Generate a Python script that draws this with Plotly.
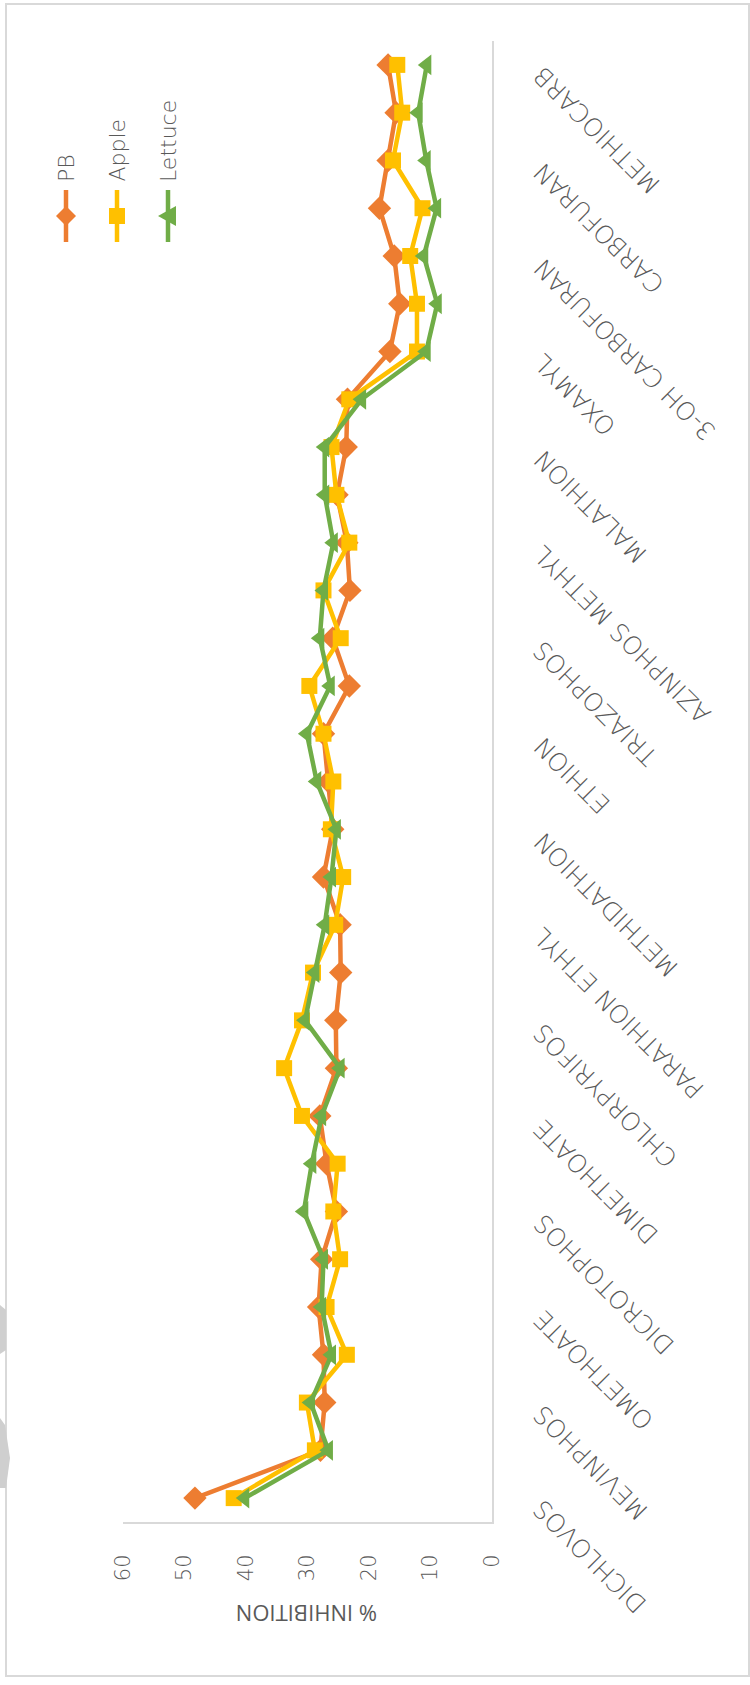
import plotly.graph_objects as go

# ---- data -------------------------------------------------------------
# 31 compounds along the category axis; only every second one carries a label
n_compounds = 31
positions = list(range(n_compounds))
compound_labels = [
    "DICHLOVOS", "MEVINPHOS", "OMETHOATE", "DICROTOPHOS", "DIMETHOATE",
    "CHLORPYRIFOS", "PARATHION ETHYL", "METHIDATHION", "ETHION",
    "TRIAZOPHOS", "AZINPHOS METHYL", "MALATHION", "OXAMYL",
    "3-OH CARBOFURAN", "CARBOFURAN", "METHIOCARB",
]
label_step = 2

pb = [48.3, 27.9, 27.2, 27.4, 28.2, 27.7, 25.3, 26.9, 28.0, 25.3, 25.4,
      24.6, 24.7, 27.4, 25.9, 26.6, 27.4, 23.2, 25.9, 23.1, 23.6, 25.2,
      23.7, 23.5, 16.6, 15.0, 15.9, 18.3, 16.9, 15.6, 16.9]
apple = [42.0, 28.8, 30.1, 23.6, 26.9, 24.7, 25.8, 25.1, 30.9, 33.8, 30.9,
         29.1, 25.5, 24.2, 26.2, 25.8, 27.4, 29.7, 24.6, 27.4, 23.2, 25.3,
         26.1, 23.2, 12.2, 12.2, 13.3, 11.3, 16.1, 14.6, 15.4]
lettuce = [40.2, 26.6, 29.5, 26.1, 27.7, 27.4, 30.6, 29.3, 27.7, 24.7, 30.4,
           28.8, 27.2, 26.1, 25.3, 28.5, 30.1, 26.3, 28.0, 27.4, 25.8, 27.2,
           27.2, 21.2, 10.7, 8.9, 11.1, 9.0, 10.7, 12.0, 10.6]

series_names = ["PB", "Apple", "Lettuce"]
value_ticks = [0, 10, 20, 30, 40, 50, 60]
axis_title = "% INHIBITION"

# ---- styling ----------------------------------------------------------
W, H = 750, 1685
L, R, T, B = 123, 492, 41, 1522          # plot area in page pixels
TEXT = "#595959"
GRID = "#d9d9d9"
TITLE_FONT = "Open Sans"
THIN_FONT = "DejaVu Sans"

colors = ["#ED7D31", "#FFC000", "#70AD47"]
symbols = ["diamond", "square", "triangle-left"]
sizes = [18, 16, 18]

# legend glyphs as pixel paths (y up)
glyph_paths = {
    "diamond": "M0,10 L10,0 L0,-10 L-10,0 Z",
    "square": "M-8,-8 L8,-8 L8,8 L-8,8 Z",
    "triangle-left": "M-10,0 L8,10 L8,-10 Z",
}


def px_x(px):
    return (px - L) / (R - L)


def px_y(py):
    return (B - py) / (B - T)


fig = go.Figure()

for name, vals, color, sym, size in zip(series_names, [pb, apple, lettuce],
                                         colors, symbols, sizes):
    fig.add_trace(go.Scatter(
        x=vals, y=positions, mode="lines+markers", name=name,
        line=dict(color=color, width=4.5),
        marker=dict(symbol=sym, size=size, color=color),
        cliponaxis=False, showlegend=False,
    ))

# legend entries, rotated like the rest of the chart
legend_x0, legend_dx, legend_y = 66, 51, 216
shapes = []
for k, (name, color, sym) in enumerate(zip(series_names, colors, symbols)):
    lx = legend_x0 + legend_dx * k
    shapes.append(dict(type="line", xref="paper", yref="paper",
                       x0=px_x(lx), x1=px_x(lx),
                       y0=px_y(legend_y - 26), y1=px_y(legend_y + 26),
                       line=dict(color=color, width=4.5)))
    shapes.append(dict(type="path", xref="paper", yref="paper",
                       xsizemode="pixel", ysizemode="pixel",
                       xanchor=px_x(lx), yanchor=px_y(legend_y),
                       path=glyph_paths[sym], fillcolor=color,
                       line=dict(width=0)))
    fig.add_annotation(
        x=px_x(lx), y=px_y(legend_y - 32), xref="paper", yref="paper",
        text=name, textangle=-90, xanchor="center", yanchor="bottom",
        showarrow=False,
        font=dict(family=THIN_FONT, size=22, color=TEXT, weight=200),
    )

# category labels, rotated so they end next to their tick
for j, name in enumerate(compound_labels):
    fig.add_annotation(
        x=px_x(525), xref="paper", y=positions[j * label_step], yref="y",
        text=name, textangle=-135, xanchor="left", yanchor="top",
        yshift=6, showarrow=False,
        font=dict(family=THIN_FONT, size=25, color=TEXT, weight=200),
    )

# value axis title, upside down under the tick labels
fig.add_annotation(
    x=px_x(307), y=px_y(1614), xref="paper", yref="paper", text=axis_title,
    textangle=180, xanchor="center", yanchor="middle", showarrow=False,
    font=dict(family=TITLE_FONT, size=22, color=TEXT),
)

# outer frame and the grey slivers on the left edge
shapes.append(dict(type="rect", xref="paper", yref="paper",
                   x0=px_x(6), x1=px_x(749), y0=px_y(4), y1=px_y(1676),
                   line=dict(color=GRID, width=2)))


def sliver(points):
    path = "M" + " L".join(f"{px_x(x):.5f},{px_y(y):.5f}" for x, y in points) + " Z"
    return dict(type="path", xref="paper", yref="paper", path=path,
                fillcolor="#cfcfcf", line=dict(width=0))


shapes.append(sliver([(0, 1305), (6, 1310), (6, 1350), (0, 1354)]))
shapes.append(sliver([(0, 1418), (5, 1425), (10, 1458), (6, 1488), (0, 1488)]))

fig.update_layout(
    width=W, height=H,
    margin=dict(l=L, r=W - R, t=T, b=H - B, pad=0),
    paper_bgcolor="white", plot_bgcolor="white",
    shapes=shapes,
    xaxis=dict(range=[60, 0], tickvals=value_ticks, tickangle=-90,
               showgrid=False, zeroline=False, showline=True,
               linecolor=GRID, linewidth=2, ticks="",
               ticklabelstandoff=22,
               tickfont=dict(family=THIN_FONT, size=21, color=TEXT,
                             weight=200)),
    yaxis=dict(range=[-0.5, n_compounds - 0.5], side="right",
               showticklabels=False, showgrid=False, zeroline=False,
               showline=True, linecolor=GRID, linewidth=2, ticks=""),
)

fig.write_html("out.html")
